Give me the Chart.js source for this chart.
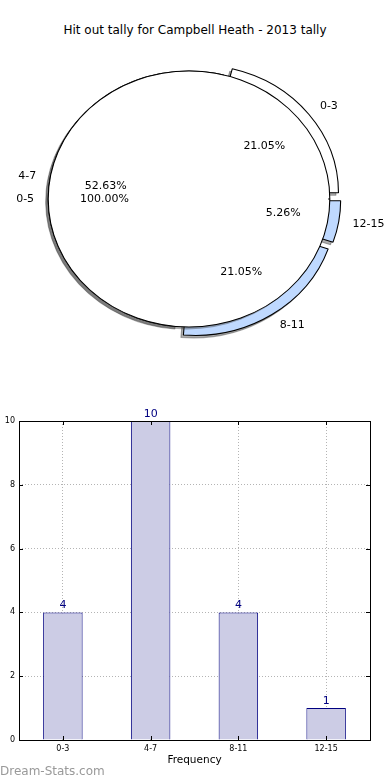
<!DOCTYPE html>
<html>
<head>
<meta charset="utf-8">
<script src="https://cdn.jsdelivr.net/npm/chart.js@4"></script>
<style>
  body { margin: 0; background: #fff; }
  #wrap { position: relative; width: 390px; height: 780px; overflow: hidden; font-family: "DejaVu Sans", sans-serif; }
  #title { position: absolute; left: 0; top: 23px; width: 390px; text-align: center; font-size: 12px; line-height: 14px; color: #000; }
  .pie { position: absolute; left: 0; top: 34px; }
  #bars { position: absolute; left: -9px; top: 400px; }
  #mark { position: absolute; left: 0; top: 764px; font-size: 12px; line-height: 14px; color: #999; }
</style>
</head>
<body>
<div id="wrap">
  <div id="title">Hit out tally for Campbell Heath - 2013 tally</div>
  <canvas id="pieSlices" class="pie" width="390" height="330"></canvas>
  <canvas id="pieTotal" class="pie" width="390" height="330"></canvas>
  <canvas id="bars" width="399" height="380"></canvas>
  <div id="mark">Dream-Stats.com</div>
</div>
<script>
// data
const categories = ["0-3", "4-7", "8-11", "12-15"];
const counts = [4, 10, 4, 1];
const totalLabels = ["0-5"];
const totalCounts = [19];
const yTicks = [0, 2, 4, 6, 8, 10];

// looks
const FONT = "DejaVu Sans";
const sliceColors = ["#ffffff", "#ffffff", "#bfd9ff", "#bfd9ff"];
const sliceExplode = [10, 0, 10, 10];
const stretchX = 1.1;   // the pie is drawn as an ellipse
const pieRadius = 128;

function stretch(ctx, cx) {
  ctx.translate(cx, 0);
  ctx.scale(stretchX, 1);
  ctx.translate(-cx, 0);
}

function midAngle(el) {
  return (el.startAngle + el.endAngle) / 2;
}

function drawArc(ctx, el, shift, patch) {
  const mid = midAngle(el);
  const o = el.options;
  ctx.save();
  ctx.translate(Math.cos(mid) * shift, Math.sin(mid) * shift);
  if (patch) el.options = Object.assign({}, o, patch);
  el.draw(ctx);
  el.options = o;
  ctx.restore();
}

// matplotlib style pie: shadows under every wedge, exploded wedges, squeezed to an ellipse.
// seamless = a single 100% wedge, drawn without its radius line
function pieLook(explode, seamless) {
  return {
    id: "pieLook",
    beforeDatasetDraw() { return false; },
    beforeDatasetsDraw(chart) {
      const ctx = chart.ctx;
      const arcs = chart.getDatasetMeta(0).data;
      const cx = arcs[0].x;
      const noBorder = seamless ? { borderWidth: 0 } : null;

      // shadows only: shapes drawn far off canvas, shadows thrown back in
      ctx.save();
      stretch(ctx, cx);
      ctx.translate(-2000, 0);
      ctx.shadowColor = "rgba(50,50,50,0.4)";
      ctx.shadowOffsetX = 2000 * stretchX - 2.5;
      ctx.shadowOffsetY = 2.5;
      arcs.forEach((el, i) => drawArc(ctx, el, explode[i] || 0, noBorder));
      ctx.restore();

      ctx.save();
      stretch(ctx, cx);
      arcs.forEach((el, i) => drawArc(ctx, el, explode[i] || 0, noBorder));
      if (seamless) {
        arcs.forEach(el => {
          ctx.save();
          ctx.beginPath();
          ctx.arc(el.x, el.y, el.outerRadius + 6, 0, Math.PI * 2);
          ctx.arc(el.x, el.y, el.outerRadius - 1.5, 0, Math.PI * 2, true);
          ctx.clip();
          drawArc(ctx, el, 0, { backgroundColor: "rgba(0,0,0,0)" });
          ctx.restore();
        });
      }
      ctx.restore();
    }
  };
}

function drawLabels(chart, explode, ctx) {
  const ds = chart.data.datasets[0];
  const total = ds.data.reduce((s, v) => s + v, 0);
  ctx.save();
  ctx.font = "11px '" + FONT + "'";
  ctx.fillStyle = "#000";
  ctx.textBaseline = "middle";
  chart.getDatasetMeta(0).data.forEach((el, i) => {
    const mid = midAngle(el);
    const off = explode[i] || 0;
    const c = Math.cos(mid), s = Math.sin(mid);
    const d1 = 1.1 * el.outerRadius + off;
    ctx.textAlign = c > 0.001 ? "left" : "right";
    ctx.fillText(chart.data.labels[i], el.x + c * d1 * stretchX, el.y + s * d1);
    const d2 = 0.6 * el.outerRadius + off;
    ctx.textAlign = "center";
    ctx.fillText((ds.data[i] / total * 100).toFixed(2) + "%", el.x + c * d2 * stretchX, el.y + s * d2);
  });
  ctx.restore();
}

function pieChart(id, labels, values, colors, explode, seamless, extra) {
  return new Chart(document.getElementById(id), {
    type: "pie",
    data: {
      labels: labels,
      datasets: [{
        data: values,
        backgroundColor: colors,
        borderColor: "#000",
        borderWidth: 1
      }]
    },
    options: {
      responsive: false,
      animation: false,
      events: [],
      rotation: 90,
      radius: pieRadius,
      layout: { padding: { right: 12 } },
      plugins: { legend: { display: false }, tooltip: { enabled: false } }
    },
    plugins: [pieLook(explode, seamless)].concat(extra || [])
  });
}

// matplotlib goes counter-clockwise from 3 o'clock, Chart.js clockwise, so flip the order
const rev = arr => arr.slice().reverse();
const slicesExplode = rev(sliceExplode);
const slices = pieChart("pieSlices", rev(categories), rev(counts), rev(sliceColors), slicesExplode, false);
pieChart("pieTotal", totalLabels, totalCounts, ["#ffffff"], [0], true, [{
  id: "pieText",
  afterDraw(chart) {
    drawLabels(slices, slicesExplode, chart.ctx);
    drawLabels(chart, [0], chart.ctx);
  }
}]);

// frame, inward ticks and the numbers on top of the bars
const barLook = {
  id: "barLook",
  afterDatasetsDraw(chart) {
    const ctx = chart.ctx;
    const a = chart.chartArea;
    const xs = chart.scales.x, ys = chart.scales.y;
    ctx.save();
    ctx.strokeStyle = "#000";
    ctx.lineWidth = 1;
    ctx.beginPath();
    yTicks.forEach(v => {
      const y = Math.round(ys.getPixelForValue(v)) + 0.5;
      ctx.moveTo(a.left, y); ctx.lineTo(a.left + 4, y);
      ctx.moveTo(a.right, y); ctx.lineTo(a.right - 4, y);
    });
    categories.forEach((c, i) => {
      const x = Math.round(xs.getPixelForValue(i)) + 0.5;
      ctx.moveTo(x, a.bottom); ctx.lineTo(x, a.bottom - 4);
      ctx.moveTo(x, a.top); ctx.lineTo(x, a.top + 4);
    });
    ctx.stroke();
    ctx.strokeRect(Math.round(a.left) + 0.5, Math.round(a.top) + 0.5,
      Math.round(a.right - a.left), Math.round(a.bottom - a.top));

    ctx.font = "11px '" + FONT + "'";
    ctx.fillStyle = "#000080";
    ctx.textAlign = "center";
    ctx.textBaseline = "alphabetic";
    chart.getDatasetMeta(0).data.forEach((bar, i) => {
      ctx.fillText(String(counts[i]), bar.x, bar.y - 4);
    });
    ctx.restore();
  }
};

new Chart(document.getElementById("bars"), {
  type: "bar",
  data: {
    labels: categories,
    datasets: [{
      data: counts,
      backgroundColor: "#cccce5",
      borderColor: "#000080",
      borderWidth: 1,
      barPercentage: 0.45,
      categoryPercentage: 1
    }]
  },
  options: {
    responsive: false,
    animation: false,
    events: [],
    layout: { padding: { top: 21, right: 20, left: 0, bottom: 0 } },
    plugins: { legend: { display: false }, tooltip: { enabled: false } },
    scales: {
      x: {
        grid: { offset: false, color: "#b4b4b4", drawTicks: false },
        border: { display: false, dash: [1, 2] },
        ticks: { color: "#000", font: { family: FONT, size: 8 }, padding: 4 },
        title: { display: true, text: "Frequency", color: "#000", font: { family: FONT, size: 10.5 }, padding: { top: 0, bottom: 13 } },
        afterFit(scale) { scale.height = 40; }
      },
      y: {
        min: 0,
        max: 10,
        afterBuildTicks(scale) { scale.ticks = yTicks.map(v => ({ value: v })); },
        grid: { color: "#b4b4b4", drawTicks: false },
        border: { display: false, dash: [1, 2] },
        ticks: { color: "#000", font: { family: FONT, size: 8 }, padding: 4 },
        title: { display: true, text: "No. of Games", color: "#000", font: { family: FONT, size: 10.5 }, padding: 0 },
        afterFit(scale) { scale.width = 28; }
      }
    }
  },
  plugins: [barLook]
});
</script>
</body>
</html>
